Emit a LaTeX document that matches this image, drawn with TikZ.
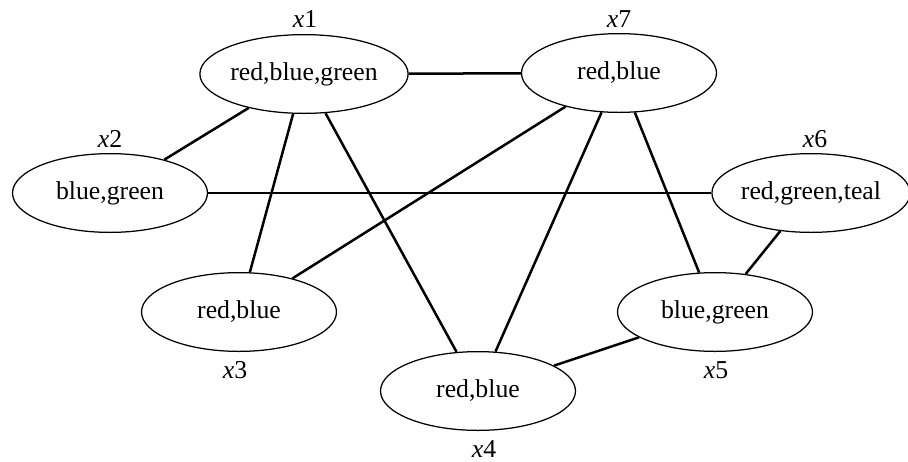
\documentclass[tikz,border=0pt]{standalone}
\usepackage{fontspec}
\setmainfont{Liberation Serif}
\usepackage{tikz}
\usetikzlibrary{shapes.geometric}
\tikzstyle{var} = [ellipse, draw=black, line width=0.5pt, minimum width=78pt, minimum height=31.5pt, inner sep=0pt, font=\fontsize{10.3}{12}\selectfont]
\tikzstyle{tag} = [font=\fontsize{10.3}{12}\selectfont]
\tikzstyle{edge} = [line width=1pt]

\begin{document}
\begin{tikzpicture}[x=0.4pt, y=-0.4pt]
        \useasboundingbox (0,0) rectangle (908,461);
        \node (x1) [var] at (304,74) {red,blue,green};
        \node (x7) [var] at (619,73) {red,blue};
        \node (x2) [var] at (110,193) {blue,green};
        \node (x6) [var] at (811,193) {red,green,teal};
        \node (x3) [var] at (239,312) {red,blue};
        \node (x5) [var] at (715,312) {blue,green};
        \node (x4) [var] at (478,391) {red,blue};
        % variable names
        \node (l1) [tag] at (305,19) {\textit{x}1};
        \node (l7) [tag] at (619,19) {\textit{x}7};
        \node (l2) [tag] at (110,139) {\textit{x}2};
        \node (l6) [tag] at (815,139) {\textit{x}6};
        \node (l3) [tag] at (235,370) {\textit{x}3};
        \node (l5) [tag] at (716,370) {\textit{x}5};
        \node (l4) [tag] at (484,449) {\textit{x}4};
        % constraints
        \draw [edge] (x1) -- (x7);
        \draw [edge] (x1) -- (x2);
        \draw [edge] (x1) -- (x3);
        \draw [edge] (x1) -- (x4);
        \draw [edge] (x7) -- (x3);
        \draw [edge] (x7) -- (x4);
        \draw [edge] (x7) -- (x5);
        \draw [edge] (x2) -- (x6);
        \draw [edge] (x6) -- (x5);
        \draw [edge] (x5) -- (x4);
    \end{tikzpicture}
\end{document}
